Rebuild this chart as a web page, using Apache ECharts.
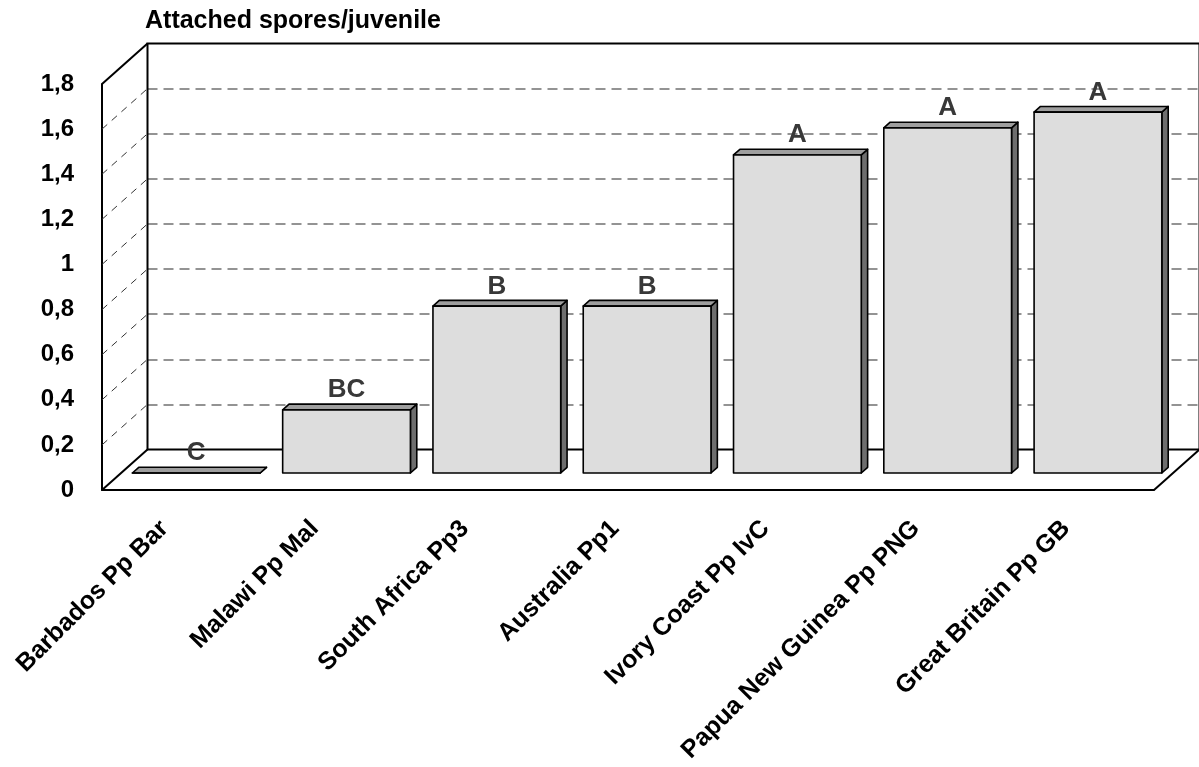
<!DOCTYPE html>
<html>
<head>
<meta charset="utf-8">
<script src="https://cdn.jsdelivr.net/npm/echarts@6/dist/echarts.min.js"></script>
<style>html,body{margin:0;padding:0;background:#fff}#c{width:1199px;height:767px}</style>
</head>
<body>
<div id="c"></div>
<script>
const categories = ['Barbados Pp Bar', 'Malawi Pp Mal', 'South Africa Pp3', 'Australia Pp1', 'Ivory Coast Pp IvC', 'Papua New Guinea Pp PNG', 'Great Britain Pp GB'];
const values = [0, 0.28, 0.74, 0.74, 1.41, 1.53, 1.60];
const letters = ['C', 'BC', 'B', 'B', 'A', 'A', 'A'];
const yTicks = [0.2, 0.4, 0.6, 0.8, 1.0, 1.2, 1.4, 1.6];
const yTitle = 'Attached spores/juvenile';

const FONT = '"Liberation Sans", Arial, sans-serif';
const DX = 45.5, DY = -40.5;        // depth offset of the back wall
const BAR_DEPTH = 0.42, BAR_THICK = 0.14, BAR_W = 0.85;

const chart = echarts.init(document.getElementById('c'), null, {renderer: 'canvas'});

function frameItem(params, api) {
  const cs = params.coordSys;
  const x0 = cs.x, x1 = cs.x + cs.width, yt = cs.y, yb = cs.y + cs.height;
  const solid = {stroke: '#000', lineWidth: 2, fill: null};
  const children = [
    {type: 'rect', shape: {x: x0 + DX, y: yt + DY, width: cs.width, height: cs.height}, style: solid},
    {type: 'line', shape: {x1: x0, y1: yt, x2: x0 + DX, y2: yt + DY}, style: solid},
    {type: 'line', shape: {x1: x0, y1: yb, x2: x0 + DX, y2: yb + DY}, style: solid},
    {type: 'line', shape: {x1: x1, y1: yb, x2: x1 + DX, y2: yb + DY}, style: solid}
  ];
  yTicks.forEach(v => {
    const y = api.coord([0, v])[1];
    children.push({type: 'line', shape: {x1: x0, y1: y, x2: x0 + DX, y2: y + DY},
      style: {stroke: '#333', lineWidth: 1, lineDash: [7, 6]}});
  });
  return {type: 'group', children: children};
}

function barItem(params, api) {
  const i = api.value(0), v = api.value(1);
  const base = api.coord([i, 0]);
  const top = api.coord([i, v]);
  const band = api.size([1, 0])[0];
  const w = band * BAR_W;
  const ox = DX * BAR_DEPTH, oy = DY * BAR_DEPTH;
  const tx = DX * BAR_THICK, ty = DY * BAR_THICK;
  const x = base[0] - w / 2 + ox;
  const yT = top[1] + oy, yB = base[1] + oy;
  const edge = {stroke: '#000', lineWidth: 1.6, lineJoin: 'round'};
  return {type: 'group', children: [
    {type: 'polygon', shape: {points: [[x + w, yT], [x + w + tx, yT + ty], [x + w + tx, yB + ty], [x + w, yB]]},
      style: Object.assign({fill: '#6e6e6e'}, edge)},
    {type: 'polygon', shape: {points: [[x, yT], [x + tx, yT + ty], [x + w + tx, yT + ty], [x + w, yT]]},
      style: Object.assign({fill: '#9e9e9e'}, edge)},
    {type: 'rect', shape: {x: x, y: yT, width: w, height: yB - yT},
      style: Object.assign({fill: '#dddddd'}, edge)},
    {type: 'text', x: x + w / 2, y: yT + ty - 1,
      style: {text: letters[i], fill: '#383838', font: 'bold 26px ' + FONT, align: 'center', verticalAlign: 'bottom'}}
  ]};
}

const option = {
  animation: false,
  backgroundColor: '#fff',
  title: {text: yTitle, left: 145, top: 9, padding: 0,
    textStyle: {fontFamily: FONT, fontWeight: 'bold', fontSize: 25, color: '#000'}},
  grid: [
    {left: 102, top: 84, width: 1052, height: 406},
    {left: 102 + DX, top: 84 + DY, width: 1052, height: 406}
  ],
  xAxis: [
    {type: 'category', gridIndex: 0, data: categories,
      axisLine: {lineStyle: {color: '#000', width: 2}}, axisTick: {show: false},
      axisLabel: {rotate: 45, interval: 0, margin: 22, padding: [0, 18, 0, 0], color: '#000',
        fontFamily: FONT, fontWeight: 'bold', fontSize: 25}},
    {type: 'category', gridIndex: 1, data: categories, show: false}
  ],
  yAxis: [
    {type: 'value', gridIndex: 0, min: 0, max: 1.8, interval: 0.2,
      axisLine: {show: true, lineStyle: {color: '#000', width: 2}}, axisTick: {show: false},
      splitLine: {show: false},
      axisLabel: {margin: 28, color: '#000', fontFamily: FONT, fontWeight: 'bold', fontSize: 24,
        formatter: v => String(+v.toFixed(1)).replace('.', ',')}},
    {type: 'value', gridIndex: 1, min: 0, max: 1.8, interval: 0.2,
      axisLine: {show: false}, axisTick: {show: false}, axisLabel: {show: false},
      splitLine: {show: true, showMinLine: false, showMaxLine: false,
        lineStyle: {color: '#707070', width: 1.5, type: [10, 6]}}}
  ],
  series: [
    {type: 'custom', name: 'frame', xAxisIndex: 0, yAxisIndex: 0, z: 2, silent: true,
      renderItem: frameItem, data: [[0, 0]]},
    {type: 'custom', name: 'bars', xAxisIndex: 0, yAxisIndex: 0, z: 3,
      renderItem: barItem, data: values.map((v, i) => [i, v])}
  ]
};
chart.setOption(option);
</script>
</body>
</html>
